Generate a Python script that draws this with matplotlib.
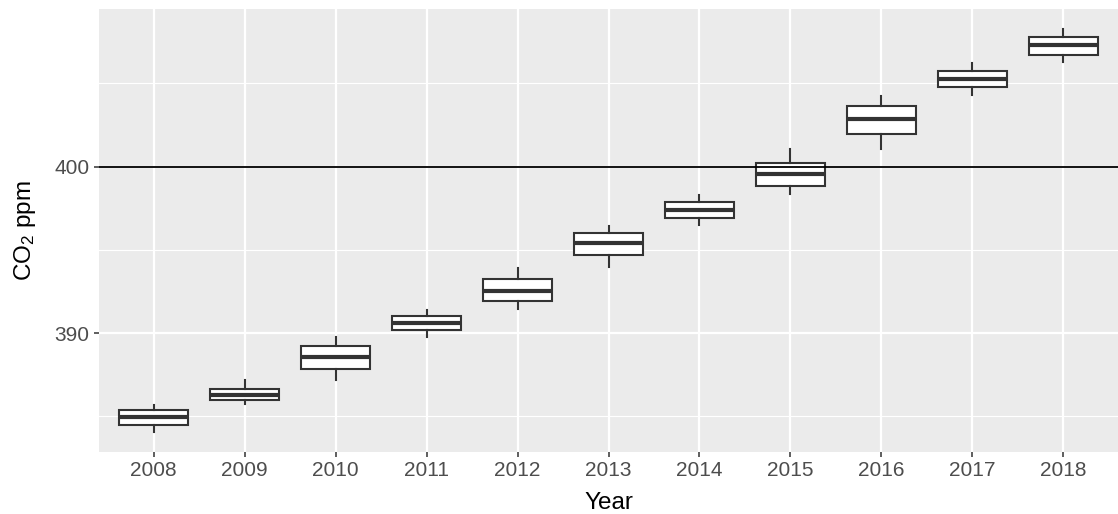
import matplotlib
matplotlib.use("Agg")
import matplotlib.pyplot as plt
from matplotlib.ticker import FixedLocator

plt.rcParams["font.family"] = ["Liberation Sans", "DejaVu Sans"]
plt.rcParams["mathtext.fontset"] = "custom"
plt.rcParams["mathtext.rm"] = "Liberation Sans"
plt.rcParams["mathtext.it"] = "Liberation Sans:italic"

# Monthly CO2 summary per year (ppm): whiskers, quartiles, median
years = ["2008", "2009", "2010", "2011", "2012", "2013",
         "2014", "2015", "2016", "2017", "2018"]
whisker_lo = [384.07, 385.72, 387.20, 389.78, 391.42, 393.95,
              396.48, 398.35, 401.08, 404.30, 406.28]
q1 = [384.50, 386.00, 387.83, 390.20, 391.90, 394.66,
      396.93, 398.83, 401.96, 404.78, 406.72]
median = [384.94, 386.30, 388.55, 390.60, 392.55, 395.38,
          397.41, 399.54, 402.87, 405.26, 407.31]
q3 = [385.38, 386.66, 389.22, 391.02, 393.23, 396.00,
      397.85, 400.22, 403.65, 405.74, 407.75]
whisker_hi = [385.66, 387.17, 389.74, 391.39, 393.92, 396.45,
              398.31, 401.04, 404.25, 406.24, 408.25]
threshold = 400

stats = [
    {"whislo": lo, "q1": a, "med": m, "q3": b, "whishi": hi, "fliers": []}
    for lo, a, m, b, hi in zip(whisker_lo, q1, median, q3, whisker_hi)
]

fig = plt.figure(figsize=(11.18, 5.14), dpi=100)
ax = fig.add_axes([99 / 1118, 1 - 452 / 514, 1 - 99 / 1118, (452 - 9) / 514])
ax.set_facecolor("#EBEBEB")
for s in ax.spines.values():
    s.set_visible(False)

positions = list(range(1, len(years) + 1))
edge = "#333333"
ax.bxp(stats, positions=positions, widths=0.75, patch_artist=True,
       showcaps=False,
       boxprops=dict(facecolor="white", edgecolor=edge, linewidth=1.5),
       whiskerprops=dict(color=edge, linewidth=1.5),
       medianprops=dict(color=edge, linewidth=3.0, solid_capstyle="butt"),
       zorder=3)

ax.axhline(threshold, color="black", linewidth=1.3, zorder=4)

# scale limits with 5% expansion, discrete x with 0.6 padding
lo, hi = min(whisker_lo), max(whisker_hi)
pad = 0.05 * (hi - lo)
ax.set_ylim(lo - pad, hi + pad)
ax.set_xlim(0.4, len(years) + 0.6)

ax.yaxis.set_major_locator(FixedLocator([390, 400]))
ax.yaxis.set_minor_locator(FixedLocator([385, 395, 405]))
ax.set_xticks(positions)
ax.set_xticklabels(years)

ax.grid(which="major", color="white", linewidth=1.6, zorder=0)
ax.grid(which="minor", axis="y", color="white", linewidth=0.8, zorder=0)
ax.set_axisbelow(True)

ax.tick_params(axis="both", which="major", length=3.8, width=1.1,
               color=edge, labelcolor="#4D4D4D", labelsize=15, pad=3)
ax.tick_params(axis="y", which="minor", length=0)

ax.set_xlabel("Year", fontsize=17.5, color="black", labelpad=8)
ax.set_ylabel("CO$_2$ ppm", fontsize=17.5, color="black", labelpad=12)

fig.savefig("out.png", dpi=100)
